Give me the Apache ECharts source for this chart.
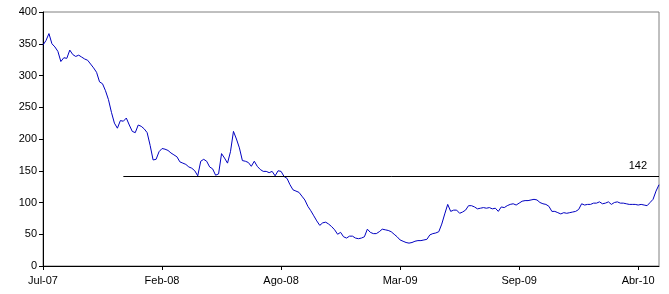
<!DOCTYPE html>
<html>
<head>
<meta charset="utf-8">
<script src="https://cdn.jsdelivr.net/npm/echarts@6/dist/echarts.min.js"></script>
<style>
html,body{margin:0;padding:0;background:#fff;}
#chart{width:669px;height:294px;}
</style>
</head>
<body>
<div id="chart"></div>
<script>
// Series values (one point every ~3 trading days, Jul-07 .. May-10)
const values = [
  348,355,366,350,345,338,322,328,327,340,
  333,330,332,329,326,324,318,312,305,290,
  287,276,262,242,225,217,229,228,233,222,
  212,210,222,220,216,210,190,167,168,180,
  185,184,182,178,175,172,164,162,160,156,
  154,150,142,165,168,165,156,153,143,145,
  177,170,162,180,212,200,186,166,165,163,
  157,165,157,152,149,149,147,149,142,150,
  149,141,138,128,120,118,116,110,104,94,
  87,79,71,64,68,69,66,62,57,50,
  53,46,44,47,47,44,43,44,46,58,
  53,51,51,54,58,57,56,54,50,46,
  41,39,37,36,37,39,40,40,41,42,
  49,51,52,54,66,82,97,86,88,88,
  83,85,88,95,95,93,90,91,92,91,
  92,90,91,86,93,92,95,97,98,96,
  99,102,103,103,104,105,104,100,98,97,
  94,86,86,84,82,84,83,84,85,86,
  89,98,96,97,97,99,99,101,98,99,
  101,97,100,101,99,99,98,97,97,97,
  96,97,96,95,100,105,118,128
];
// Tick labels, one every `tickEvery` points
const tickLabels = ['Jul-07','Feb-08','Ago-08','Mar-09','Sep-09','Abr-10'];
const tickEvery = 40;
// Reference level line
const refLevel = 142;
const refStartIndex = 27;

const categories = values.map((v, i) => i);

const chart = echarts.init(document.getElementById('chart'), null, {renderer: 'canvas'});
const font = 'Liberation Sans, Arial, sans-serif';
chart.setOption({
  animation: false,
  grid: {left: 43, right: 10, top: 12, bottom: 28, show: true, borderColor: '#808080', borderWidth: 1, backgroundColor: 'transparent'},
  xAxis: {
    type: 'category',
    data: categories,
    boundaryGap: false,
    axisLine: {lineStyle: {color: '#000', width: 1}},
    axisTick: {show: true, length: 4, lineStyle: {color: '#000'}, interval: (idx) => idx % tickEvery === 0},
    axisLabel: {
      interval: (idx) => idx % tickEvery === 0,
      formatter: (val, idx) => tickLabels[Math.round(idx / tickEvery)] || '',
      color: '#000', fontFamily: font, fontSize: 11, margin: 9
    },
    splitLine: {show: false}
  },
  yAxis: {
    type: 'value',
    min: 0, max: 400, interval: 50,
    axisLine: {show: true, lineStyle: {color: '#000', width: 1}},
    axisTick: {show: true, length: 4, lineStyle: {color: '#000'}},
    axisLabel: {color: '#000', fontFamily: font, fontSize: 11, margin: 6},
    splitLine: {show: false}
  },
  series: [{
    type: 'line',
    data: values,
    showSymbol: false,
    symbol: 'none',
    lineStyle: {color: '#0000c0', width: 1},
    markLine: {
      silent: true,
      symbol: ['none', 'none'],
      lineStyle: {color: '#000', width: 1, type: 'solid'},
      label: {
        show: true,
        position: 'insideEndTop',
        formatter: String(refLevel),
        color: '#000', fontFamily: font, fontSize: 11,
        distance: [12, 4]
      },
      data: [[{coord: [refStartIndex, refLevel]}, {coord: [values.length - 1, refLevel]}]]
    }
  }]
});
</script>
</body>
</html>
